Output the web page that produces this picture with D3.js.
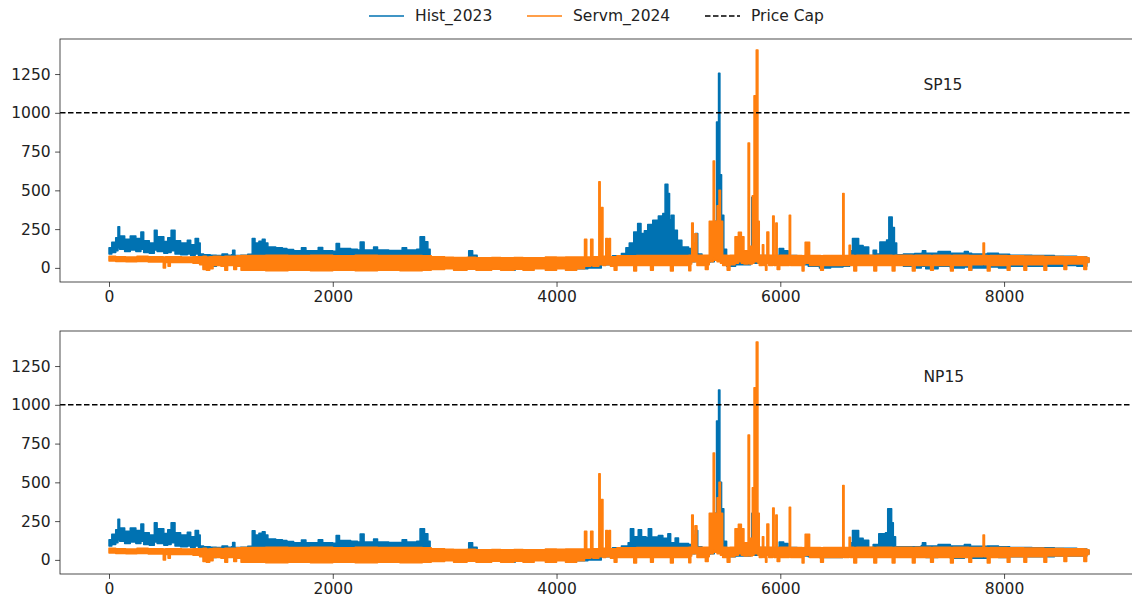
<!DOCTYPE html>
<html>
<head>
<meta charset="utf-8">
<script src="https://cdn.jsdelivr.net/npm/d3@7"></script>
<style>
    body { margin: 0; background: #fff; }
    svg { display: block; }
</style>
</head>
<body>
<svg id="chart"></svg>
<script>
// hourly prices as [hour, low, high] envelopes, each holding until the next hour
const hubs = ["SP15", "NP15"];
const seriesNames = ["Hist_2023", "Servm_2024", "Price Cap"];
const priceCap = 1000;
const xTicks = [0, 2000, 4000, 6000, 8000];
const yTicks = [0, 250, 500, 750, 1000, 1250];

const hist2023Sp15 = [
    [0, 90, 130], [25, 100, 165], [60, 110, 195], [80, 130, 265], [95, 120, 205], [140, 105, 185],
    [190, 115, 205], [240, 105, 190], [285, 120, 232], [310, 100, 175], [360, 95, 160], [405, 115, 243],
    [430, 105, 200], [490, 95, 170], [525, 100, 195], [555, 110, 243], [590, 90, 175], [640, 85, 160],
    [700, 90, 178], [730, 80, 150], [770, 90, 190], [800, 65, 160], [815, 35, 90], [845, 0, 85],
    [905, 10, 82], [960, 30, 80], [1010, 40, 90], [1060, 30, 82], [1095, 35, 85], [1105, 40, 114], [1125, 30, 80],
    [1175, 15, 82], [1240, 20, 88], [1280, 60, 190], [1305, 70, 160], [1340, 65, 172], [1370, 70, 185],
    [1395, 60, 160], [1420, 55, 135], [1490, 55, 130], [1550, 50, 125], [1590, 50, 118], [1650, 50, 110],
    [1720, 50, 130], [1760, 45, 110], [1870, 50, 132], [1910, 45, 110], [2000, 45, 108], [2030, 50, 157], [2060, 45, 125],
    [2160, 45, 120], [2220, 45, 115], [2245, 50, 167], [2280, 45, 115], [2365, 50, 135], [2400, 45, 115],
    [2500, 45, 112], [2620, 50, 130], [2660, 45, 115], [2750, 45, 120], [2780, 60, 200], [2820, 50, 168],
    [2850, 40, 120], [2870, 10, 70], [2950, 5, 65],
    [3050, 5, 62], [3150, 0, 62], [3205, 5, 65], [3215, 20, 110], [3250, 10, 82], [3290, 0, 62], [3360, 0, 60],
    [3370, -15, 60], [3390, 0, 60], [3600, 0, 60], [3610, -15, 58], [3630, 0, 60], [3900, 5, 60],
    [4140, 0, 62], [4150, -5, 62], [4280, 0, 60],
    [4400, 20, 70], [4500, 30, 78], [4580, 35, 92], [4620, 40, 130], [4650, 45, 160], [4690, 50, 232],
    [4725, 55, 286], [4755, 50, 222], [4785, 55, 240], [4815, 60, 280], [4860, 60, 308], [4910, 60, 335],
    [4950, 60, 350], [4970, 70, 540], [4995, 65, 480], [5010, 60, 310], [5025, 60, 340], [5050, 55, 243],
    [5080, 50, 178], [5120, 45, 135], [5180, 40, 125], [5225, 40, 110], [5240, 50, 222], [5262, 40, 90],
    [5300, 35, 75], [5370, 40, 110], [5410, 60, 300], [5430, 100, 940], [5448, 150, 1255], [5460, 80, 600],
    [5475, 60, 340], [5495, 40, 120], [5520, 10, 70], [5600, 20, 75], [5735, 30, 80], [5745, 40, 455],
    [5758, 30, 80], [5900, 20, 70], [5960, 30, 80], [5990, 40, 125], [6030, 40, 110], [6070, 30, 80],
    [6150, 20, 70], [6250, 10, 68], [6350, 0, 65], [6450, 5, 65], [6560, 10, 70], [6620, 30, 110],
    [6645, 40, 190], [6700, 40, 145], [6740, 35, 135], [6790, 30, 80], [6830, 40, 114], [6860, 35, 90],
    [6890, 45, 167], [6950, 50, 180], [6970, 60, 328], [7000, 55, 260], [7020, 40, 160], [7040, 20, 85],
    [7100, 10, 90], [7200, 0, 92], [7260, 10, 95], [7270, 10, 110], [7300, -5, 95], [7410, 10, 105],
    [7520, 0, 95], [7645, 5, 105], [7680, 5, 95], [7690, -15, 95], [7710, 0, 90], [7850, 5, 95],
    [7950, 0, 88], [8050, 10, 82], [8250, 10, 80], [8450, 10, 75], [8550, 15, 75], [8650, 10, 70],
    [8740, 40, 62], [8759, 40, 60]
];

const hist2023Np15 = [
    [0, 90, 130], [25, 100, 165], [60, 110, 195], [80, 130, 262], [95, 120, 205], [140, 105, 185],
    [190, 115, 205], [240, 105, 190], [285, 120, 232], [310, 100, 175], [360, 95, 160], [405, 115, 240],
    [430, 105, 200], [490, 95, 170], [525, 100, 195], [555, 110, 240], [590, 90, 175], [640, 85, 160],
    [700, 90, 178], [730, 80, 150], [770, 90, 190], [800, 65, 160], [815, 35, 90], [845, 10, 85],
    [905, 15, 82], [960, 30, 80], [1010, 40, 90], [1060, 30, 82], [1095, 35, 85], [1105, 40, 112], [1125, 30, 80],
    [1175, 15, 82], [1240, 20, 88], [1280, 60, 188], [1305, 70, 160], [1340, 65, 172], [1370, 70, 182],
    [1395, 60, 160], [1420, 55, 135], [1490, 55, 130], [1550, 50, 125], [1590, 50, 118], [1650, 50, 110],
    [1720, 50, 128], [1760, 45, 110], [1870, 50, 130], [1910, 45, 110], [2000, 45, 108], [2030, 50, 157], [2060, 45, 125],
    [2160, 45, 120], [2220, 45, 115], [2245, 50, 167], [2280, 45, 115], [2365, 50, 135], [2400, 45, 115],
    [2500, 45, 112], [2620, 50, 130], [2660, 45, 115], [2750, 45, 120], [2780, 60, 200], [2820, 50, 168],
    [2850, 40, 120], [2870, 10, 70], [2950, 5, 65],
    [3050, 5, 62], [3150, 0, 62], [3205, 5, 65], [3215, 20, 110], [3250, 10, 82], [3290, 0, 62], [3360, 0, 60],
    [3370, -15, 60], [3390, 0, 60], [3600, 0, 60], [3610, -15, 58], [3630, 0, 60], [3900, 5, 60],
    [4140, 0, 62], [4150, -5, 62], [4280, 0, 60],
    [4400, 20, 70], [4500, 30, 78], [4580, 35, 90], [4640, 40, 110], [4660, 45, 201], [4690, 45, 150],
    [4730, 50, 195], [4760, 45, 150], [4800, 45, 145], [4820, 50, 201], [4850, 45, 148], [4910, 50, 158],
    [4950, 45, 140], [4995, 50, 169], [5020, 45, 110], [5060, 45, 141], [5090, 40, 105], [5180, 40, 100],
    [5225, 40, 95], [5240, 45, 190], [5262, 40, 85], [5300, 35, 75], [5370, 40, 110], [5410, 60, 300],
    [5430, 100, 895], [5448, 150, 1095], [5460, 80, 500], [5475, 60, 330], [5495, 40, 120], [5520, 20, 70],
    [5600, 25, 75], [5735, 30, 80], [5745, 40, 300], [5758, 30, 80], [5900, 25, 70], [5960, 30, 80],
    [5990, 40, 116], [6030, 40, 105], [6070, 30, 80], [6150, 25, 70], [6250, 20, 68], [6350, 15, 65],
    [6450, 15, 68], [6560, 20, 70], [6620, 35, 110], [6645, 40, 190], [6700, 40, 140], [6740, 35, 127],
    [6790, 30, 80], [6830, 40, 100], [6880, 45, 169], [6940, 50, 175], [6960, 60, 330], [6995, 55, 240],
    [7010, 40, 150], [7030, 25, 85], [7100, 20, 85], [7260, 20, 92], [7270, 20, 110], [7300, 15, 90],
    [7410, 20, 100], [7520, 10, 90], [7645, 20, 100], [7700, 10, 88], [7850, 20, 90], [7950, 15, 85],
    [8050, 20, 80], [8250, 20, 78], [8450, 25, 75], [8650, 25, 70], [8740, 40, 62], [8759, 40, 60]
];

// the Servm_2024 run reads the same in both hubs
const servm2024 = [
    [0, 45, 75], [60, 42, 72], [150, 40, 70], [250, 42, 75], [350, 38, 72], [485, 0, 70], [505, 35, 72],
    [528, 10, 72], [548, 35, 72], [650, 35, 70], [750, 30, 72], [810, 20, 72], [840, -10, 75], [870, -15, 70],
    [900, -5, 72], [930, 15, 75], [1000, 10, 72], [1035, -15, 75], [1060, 15, 75], [1115, -10, 75],
    [1140, 10, 78], [1180, -15, 80], [1400, -18, 82], [1600, -15, 80], [1800, -18, 82], [2000, -15, 78],
    [2200, -18, 82], [2400, -15, 80], [2600, -18, 80], [2800, -15, 78], [2880, -10, 72], [3000, -5, 68],
    [3080, -15, 67], [3200, -8, 68], [3280, -15, 65], [3420, -8, 67], [3500, -15, 66], [3620, -8, 67],
    [3700, -15, 66], [3800, -5, 66], [3900, -15, 70], [4000, -5, 68], [4080, -15, 70], [4180, -5, 70],
    [4250, 10, 185], [4270, 10, 70], [4305, 15, 185], [4325, 10, 72], [4378, 20, 555], [4390, 20, 80],
    [4400, 20, 390], [4415, 15, 75], [4440, 20, 190], [4455, 20, 100], [4468, 20, 190], [4482, 10, 72],
    [4515, -15, 72], [4540, 15, 78], [4690, -20, 78], [4715, 15, 80], [4840, -15, 80], [4865, 15, 80],
    [5018, -20, 80], [5043, 15, 80], [5182, -18, 82], [5200, 25, 80], [5208, 40, 290], [5222, 40, 160],
    [5237, 40, 220], [5255, 15, 82], [5330, -10, 82], [5355, 20, 82], [5365, 40, 300], [5400, 60, 690],
    [5412, 50, 300], [5435, 40, 400], [5452, 40, 500], [5465, 30, 300], [5485, 15, 82], [5525, -15, 80],
    [5550, 20, 82], [5595, 30, 200], [5625, 40, 230], [5652, 30, 200], [5675, 25, 110], [5712, 30, 805],
    [5725, 25, 140], [5750, 30, 465], [5765, 40, 1110], [5785, 40, 1405], [5800, 30, 300], [5812, 15, 82],
    [5840, 25, 150], [5852, 15, 82], [5868, -15, 80], [5880, 30, 232], [5897, 15, 82], [5932, 30, 335],
    [5945, 15, 82], [5960, 25, 290], [5972, -10, 80], [5995, 15, 82], [6080, 30, 340], [6092, 15, 80],
    [6195, -20, 78], [6212, 25, 80], [6222, 30, 165], [6262, 15, 80], [6360, -15, 78], [6385, 15, 80],
    [6558, 30, 480], [6570, 15, 80], [6615, 25, 146], [6627, 15, 82], [6657, -20, 80], [6682, 15, 82],
    [6836, -20, 80], [6861, 15, 82], [7000, -20, 80], [7025, 15, 82], [7180, -20, 80], [7205, 15, 82],
    [7343, -15, 80], [7368, 15, 82], [7521, -20, 80], [7546, 15, 82], [7685, -15, 80], [7710, 20, 80],
    [7812, 30, 160], [7825, 20, 80], [7850, -20, 78], [7875, 15, 80], [8028, -15, 78], [8053, 20, 78],
    [8177, -15, 76], [8202, 20, 76], [8356, -15, 74], [8381, 25, 74], [8535, -10, 72], [8560, 25, 72],
    [8713, -10, 70], [8738, 35, 66], [8759, 35, 62]
];

const panelSeries = [[hist2023Sp15, servm2024], [hist2023Np15, servm2024]];
const colors = ["#0072b2", "#ff7f0e"];

const width = 1132;
const height = 603;
const margin = ({left: 60, width: 1078, height: 243});
const panelTops = [39, 331];
const font = "DejaVu Sans, sans-serif";
const fontSize = 15.5;

const svg = d3.select("#chart")
    .attr("width", width)
    .attr("height", height)
    .style("font-family", font);

const x = d3.scaleLinear().domain([-438, 9197]).range([margin.left, margin.left + margin.width]);

const area = (y) => d3.area()
    .x(d => x(d[0]))
    .y0(d => y(d[1]))
    .y1(d => y(d[2]))
    .curve(d3.curveStepAfter);

hubs.forEach((hub, i) => {
    const top = panelTops[i];
    const y = d3.scaleLinear().domain([-91, 1476]).range([top + margin.height, top]);

    svg.append("clipPath").attr("id", "clip" + i)
        .append("rect")
        .attr("x", margin.left).attr("y", top)
        .attr("width", margin.width).attr("height", margin.height);

    const g = svg.append("g").attr("clip-path", `url(#clip${i})`);

    panelSeries[i].forEach((series, j) => {
        g.append("path")
            .datum(series)
            .attr("d", area(y))
            .attr("fill", colors[j])
            .attr("stroke", colors[j])
            .attr("stroke-width", 1.5)
            .attr("stroke-linejoin", "round");
    });

    g.append("line")
        .attr("x1", margin.left).attr("x2", margin.left + margin.width)
        .attr("y1", y(priceCap)).attr("y2", y(priceCap))
        .attr("stroke", "#000")
        .attr("stroke-width", 1.6)
        .attr("stroke-dasharray", "5.5,2.5");

    svg.append("text")
        .attr("x", x(7280))
        .attr("y", y(1150))
        .style("font-size", fontSize + "px")
        .attr("fill", "#222")
        .text(hub);

    const xAxis = svg.append("g")
        .attr("transform", `translate(0,${top + margin.height})`)
        .call(d3.axisBottom(x).tickValues(xTicks).tickFormat(d3.format("d")).tickSize(4.9).tickPadding(4))
        .call(a => a.select(".domain").remove());

    const yAxis = svg.append("g")
        .attr("transform", `translate(${margin.left},0)`)
        .call(d3.axisLeft(y).tickValues(yTicks).tickFormat(d3.format("d")).tickSize(4.9).tickPadding(4.5))
        .call(a => a.select(".domain").remove());

    [xAxis, yAxis].forEach(a => {
        a.selectAll("text").style("font-size", fontSize + "px").style("font-family", font).attr("fill", "#222");
        a.selectAll("line").attr("stroke", "#222").attr("stroke-width", 0.8);
    });

    svg.append("rect")
        .attr("x", margin.left).attr("y", top)
        .attr("width", margin.width).attr("height", margin.height)
        .attr("fill", "none")
        .attr("stroke", "#222")
        .attr("stroke-width", 0.8);
});

// legend across the top
const legendItems = [
    {name: seriesNames[0], x: 369, color: colors[0], dash: null},
    {name: seriesNames[1], x: 527, color: colors[1], dash: null},
    {name: seriesNames[2], x: 705, color: "#000", dash: "5.5,2.5"}
];
const legend = svg.append("g").attr("transform", "translate(0,16)");
legendItems.forEach(item => {
    legend.append("line")
        .attr("x1", item.x).attr("x2", item.x + 35)
        .attr("stroke", item.color)
        .attr("stroke-width", 1.5)
        .attr("stroke-dasharray", item.dash);
    legend.append("text")
        .attr("x", item.x + 46)
        .attr("dy", "0.35em")
        .style("font-size", fontSize + "px")
        .attr("fill", "#222")
        .text(item.name);
});
</script>
</body>
</html>
